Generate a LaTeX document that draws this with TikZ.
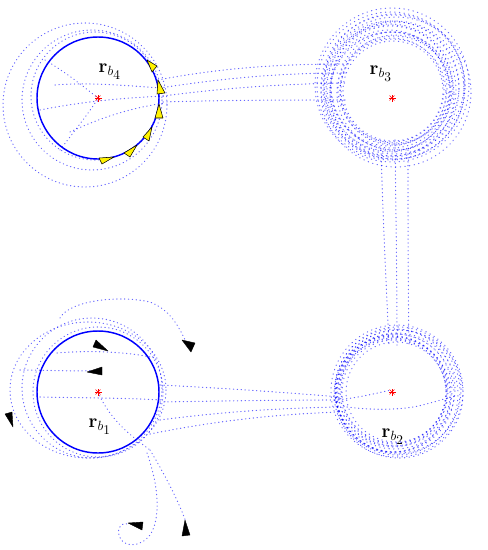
\documentclass[tikz,border=0pt]{standalone}
\usetikzlibrary{calc}
\begin{document}
\begin{tikzpicture}[x=0.75pt,y=-0.75pt,
  traj/.style={blue, line width=0.8pt, dash pattern=on 0.3pt off 2.6pt, line cap=round, opacity=0.6},
  ringdot/.style={blue, line width=0.8pt, dash pattern=on 0.3pt off 3.2pt, line cap=round, opacity=0.6},
  solidring/.style={blue, line width=1.1pt},
  yarrow/.style={fill=yellow, draw=black, line width=0.4pt, line join=round},
  karrow/.style={fill=black, draw=black, line width=0.3pt, line join=round},
  lab/.style={font=\fontsize{14}{14}\selectfont, inner sep=0pt},
  ctr/.style={red, line width=0.5pt}]
\useasboundingbox (0,0) rectangle (487,550);
\coordinate (c4) at (98,98);
\coordinate (c3) at (392,98);
\coordinate (c1) at (98,392);
\coordinate (c2) at (392,392);

% ---------- rb4 region ----------
\draw[traj] (85,105) circle (82);
\draw[traj] (92,100) circle (70);
\draw[traj] (95,96) circle (64);
\draw[traj] (40,110) .. controls (80,102) and (120,98) .. (165,96);
\draw[traj] (55,85) .. controls (90,82) and (130,86) .. (162,88);
\draw[traj] (70,132) .. controls (100,118) and (130,108) .. (165,103);
\draw[traj] (45,60) .. controls (70,75) and (85,88) .. (98,98);
\draw[traj] (60,150) .. controls (75,130) and (90,112) .. (98,98);
\draw[solidring] (c4) circle (61);

% ---------- rb3 region ----------
\foreach \dx/\dy/\r [count=\i] in {0/-8/52, 2/-10/56, -2/-6/60, 3/-12/64, -1/-9/68, 1/-11/72, 4/-6/75, -3/-10/58, 0/-4/62, 2/-14/70, -2/-8/66, 3/-9/54, 1/-7/50, -1/-12/74, 2/-5/57, 0/-13/77, -2/-10/63, 3/-8/69, 1/-6/53, -1/-11/61}
  \draw[ringdot, dash phase=\i*0.37pt] ($(c3)+(\dx,\dy)$) circle (\r);

% ---------- rb4 -> rb3 ----------
\draw[traj] (158,80) .. controls (220,68) and (280,64) .. (345,64);
\draw[traj] (160,88) .. controls (225,78) and (280,73) .. (345,73);
\draw[traj] (163,96) .. controls (225,88) and (280,84) .. (345,83);
\draw[traj] (163,102) .. controls (230,100) and (290,100) .. (345,100);

% ---------- rb2 region ----------
\foreach \dx/\dy/\r [count=\i] in {2/0/52, 4/-2/56, 0/2/58, 6/0/62, 3/-3/60, 7/2/64, 1/1/54, 5/-1/66, 2/3/57, 4/0/50, 3/1/59, 6/-2/63, 1/-1/55, 5/2/61, 2/-2/53}
  \draw[ringdot, dash phase=\i*0.41pt] ($(c2)+(\dx,\dy)$) circle (\r);
\draw[traj] (335,400) .. controls (360,398) and (380,392) .. (392,390);
\draw[traj] (347,407) .. controls (370,410) and (395,410) .. (413,407) .. controls (425,405) and (440,400) .. (455,396);

% ---------- rb3 -> rb2 ----------
\draw[traj] (381,150) .. controls (383,220) and (386,280) .. (389,345);
\draw[traj] (395,140) .. controls (396,220) and (397,280) .. (397,345);
\draw[traj] (408,150) .. controls (408,220) and (408,280) .. (409,345);

% ---------- rb1 region ----------
\draw[traj] (88,390) ellipse (78 and 68);
\draw[traj] (92,388) circle (70);
\draw[traj] (98,392) circle (65);
\draw[traj] (60,318) .. controls (70,300) and (120,295) .. (150,302) .. controls (170,310) and (178,325) .. (186,342);
\draw[traj] (20,370) .. controls (50,370) and (80,372) .. (100,370);
\draw[traj] (40,397) .. controls (90,398) and (130,398) .. (160,400);
\draw[traj] (57,353) .. controls (90,350) and (130,352) .. (155,358);
\draw[traj] (98,392) .. controls (110,420) and (130,435) .. (150,450);
\draw[traj] (150,450) .. controls (165,475) and (178,500) .. (186,522);
\draw[traj] (147,453) .. controls (160,490) and (160,520) .. (150,535) .. controls (140,548) and (122,548) .. (119,535) .. controls (117,527) and (122,522) .. (128,524);
\draw[solidring] (c1) circle (61);

% ---------- rb1 -> rb2 ----------
\draw[traj] (160,385) .. controls (220,388) and (280,392) .. (340,397);
\draw[traj] (160,402) .. controls (220,401) and (280,400) .. (340,400);
\draw[traj] (160,420) .. controls (220,412) and (280,408) .. (340,407);
\draw[traj] (150,434) .. controls (220,420) and (280,414) .. (340,412);

% ---------- yellow arrowheads (rb4) ----------
\draw[yarrow] (147,60) -- (152,72) -- (157,66) -- cycle;
\draw[yarrow] (158,80) -- (157,94) -- (165,93) -- cycle;
\draw[yarrow] (159,104) -- (155,118) -- (163,118) -- cycle;
\draw[yarrow] (152,127) -- (143,137) -- (149,141) -- cycle;
\draw[yarrow] (137,145) -- (124,153) -- (130,157) -- cycle;
\draw[yarrow] (114,157) -- (99,158) -- (102,164) -- cycle;

% ---------- black arrowheads (rb1) ----------
\draw[karrow] (108,351) -- (96,340) -- (93,347) -- cycle;
\draw[karrow] (87,372) -- (102,367) -- (102,375) -- cycle;
\draw[karrow] (191,352) -- (182,340) -- (195,343) -- cycle;
\draw[karrow] (13,427) -- (5,414) -- (12,412) -- cycle;
\draw[karrow] (128,523) -- (143,522) -- (142,530) -- cycle;
\draw[karrow] (185,520) -- (182,536) -- (190,535) -- cycle;

% ---------- centres ----------
\foreach \c in {c1,c2,c3,c4}
  \foreach \a in {0,45,90,135}
    \draw[ctr] ($(\c)+(\a:3.5)$) -- ($(\c)+(\a+180:3.5)$);

% ---------- labels ----------
\node[lab] (l4) at (110,72) {$\mathbf{r}_{b_{\scriptstyle 4}}$};
\node[lab] (l3) at (381,74) {$\mathbf{r}_{b_{\scriptstyle 3}}$};
\node[lab] (l1) at (100,427) {$\mathbf{r}_{b_{\scriptstyle 1}}$};
\node[lab] (l2) at (393,437) {$\mathbf{r}_{b_{\scriptstyle 2}}$};
\end{tikzpicture}
\end{document}
